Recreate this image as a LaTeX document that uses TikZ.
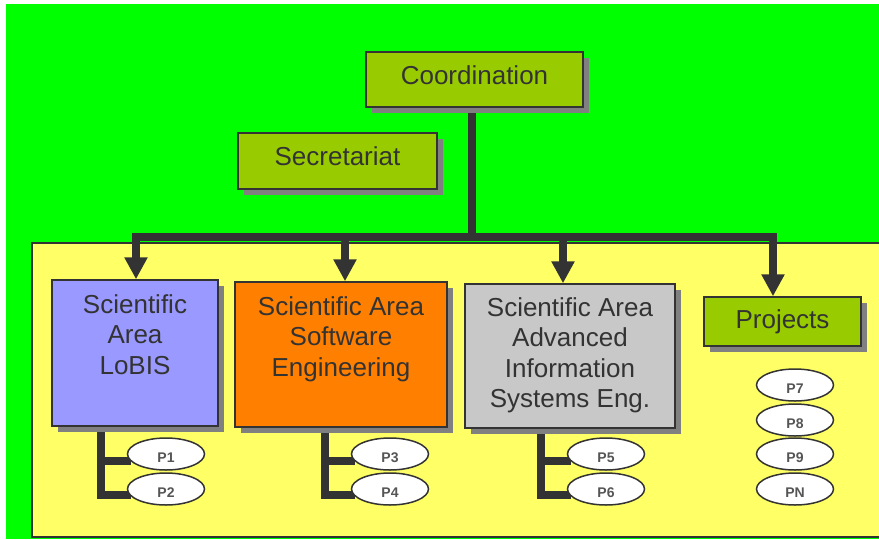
\documentclass[tikz,border=0pt]{standalone}
\usepackage{fontspec}
\setmainfont{Liberation Sans}
\usepackage{tikz}
\usetikzlibrary{shadows,arrows.meta,positioning,backgrounds,shapes.geometric}

\definecolor{bggreen}{HTML}{00FF00}
\definecolor{areayellow}{HTML}{FFFF66}
\definecolor{unitolive}{HTML}{99CC00}
\definecolor{lobisblue}{HTML}{9999FF}
\definecolor{swengorange}{HTML}{FF8000}
\definecolor{aisegray}{HTML}{C8C8C8}
\definecolor{darkline}{HTML}{333333}
\definecolor{shadowgray}{HTML}{808080}
\definecolor{ptext}{HTML}{555555}

\tikzset{
    unit/.style={draw=darkline, line width=1.5pt, text=darkline, inner sep=0pt,
        font=\fontsize{26}{30.5}\selectfont,
        drop shadow={shadow xshift=6pt, shadow yshift=-6pt, fill=shadowgray, opacity=1}},
    areatext/.style={anchor=north, align=center, text=darkline, inner sep=0pt,
        font=\fontsize{26}{30.5}\selectfont},
    pnode/.style={ellipse, draw=darkline, line width=1.5pt, fill=white, inner sep=0pt,
        minimum width=77pt, minimum height=32pt, text height=16pt, text depth=0pt,
        text=ptext, font=\bfseries\fontsize{14}{16}\selectfont},
    conn/.style={draw=darkline, line width=8pt, line join=miter},
    arrow/.style={conn, -{Triangle[width=22pt,length=22pt]}}
}

\begin{document}
\begin{tikzpicture}[x=1pt, y=-1pt]
            \useasboundingbox (0,0) rectangle (879,539);
            \begin{scope}[on background layer]
                \fill[bggreen] (6,4) rectangle (879,539);
                \draw[darkline, line width=1.5pt, fill=areayellow] (32,243) rectangle (890,537);
            \end{scope}

            \node[unit, fill=unitolive, minimum width=217pt, minimum height=55pt, text depth=9pt] (coord) at (474.5,79.5) {Coordination};
            \node[unit, fill=unitolive, minimum width=199pt, minimum height=56pt, text depth=9pt] (secr) at (337.5,161) {Secretariat};

            \node[unit, fill=lobisblue, minimum width=166pt, minimum height=146pt] (lobis) at (135,353) {};
            \node[unit, fill=swengorange, minimum width=212pt, minimum height=145pt] (sweng) at (341,354.5) {};
            \node[unit, fill=aisegray, minimum width=210pt, minimum height=144pt] (aise) at (570,356) {};
            \node[unit, fill=unitolive, minimum width=157pt, minimum height=49pt, text depth=4pt] (proj) at (782.5,321.5) {Projects};

            \node[areatext] (lobistext) at ([yshift=-15pt]lobis.north) {Scientific\\Area\\LoBIS};
            \node[areatext] (swengtext) at ([yshift=-15pt]sweng.north) {Scientific Area\\Software\\Engineering};
            \node[areatext] (aisetext) at ([yshift=-14pt]aise.north) {Scientific Area\\Advanced\\Information\\Systems Eng.};

            \node[pnode] (p1) at (166,454) {P1};
            \node[pnode] (p2) at (166,489) {P2};
            \node[pnode] (p3) at (390,454) {P3};
            \node[pnode] (p4) at (390,489) {P4};
            \node[pnode] (p5) at (606,454) {P5};
            \node[pnode] (p6) at (606,489) {P6};
            \node[pnode] (p7) at (795,385) {P7};
            \node[pnode] (p8) at (795,420) {P8};
            \node[pnode] (p9) at (795,454) {P9};
            \node[pnode] (pn) at (795,489) {PN};

            \coordinate (hub) at (472,236.5);

            \begin{scope}[on background layer]
                \draw[conn] (coord.south -| hub) -- (hub);
                \draw[arrow] (hub) -| ([xshift=1pt]lobis.north);
                \draw[arrow] (hub) -| ([xshift=4pt]sweng.north);
                \draw[arrow] (hub) -| ([xshift=-7pt]aise.north);
                \draw[arrow] (hub) -| ([xshift=-9.5pt]proj.north);

                \draw[conn] ([xshift=-34pt]lobis.south) |- ([xshift=4pt,yshift=-6pt]p2.west);
                \draw[conn] ([xshift=-34pt]lobis.south) |- ([xshift=4pt,yshift=-7pt]p1.west);
                \draw[conn] ([xshift=-16pt]sweng.south) |- ([xshift=4pt,yshift=-6pt]p4.west);
                \draw[conn] ([xshift=-16pt]sweng.south) |- ([xshift=4pt,yshift=-7pt]p3.west);
                \draw[conn] ([xshift=-29pt]aise.south) |- ([xshift=4pt,yshift=-6pt]p6.west);
                \draw[conn] ([xshift=-29pt]aise.south) |- ([xshift=4pt,yshift=-7pt]p5.west);
            \end{scope}
\end{tikzpicture}
\end{document}
